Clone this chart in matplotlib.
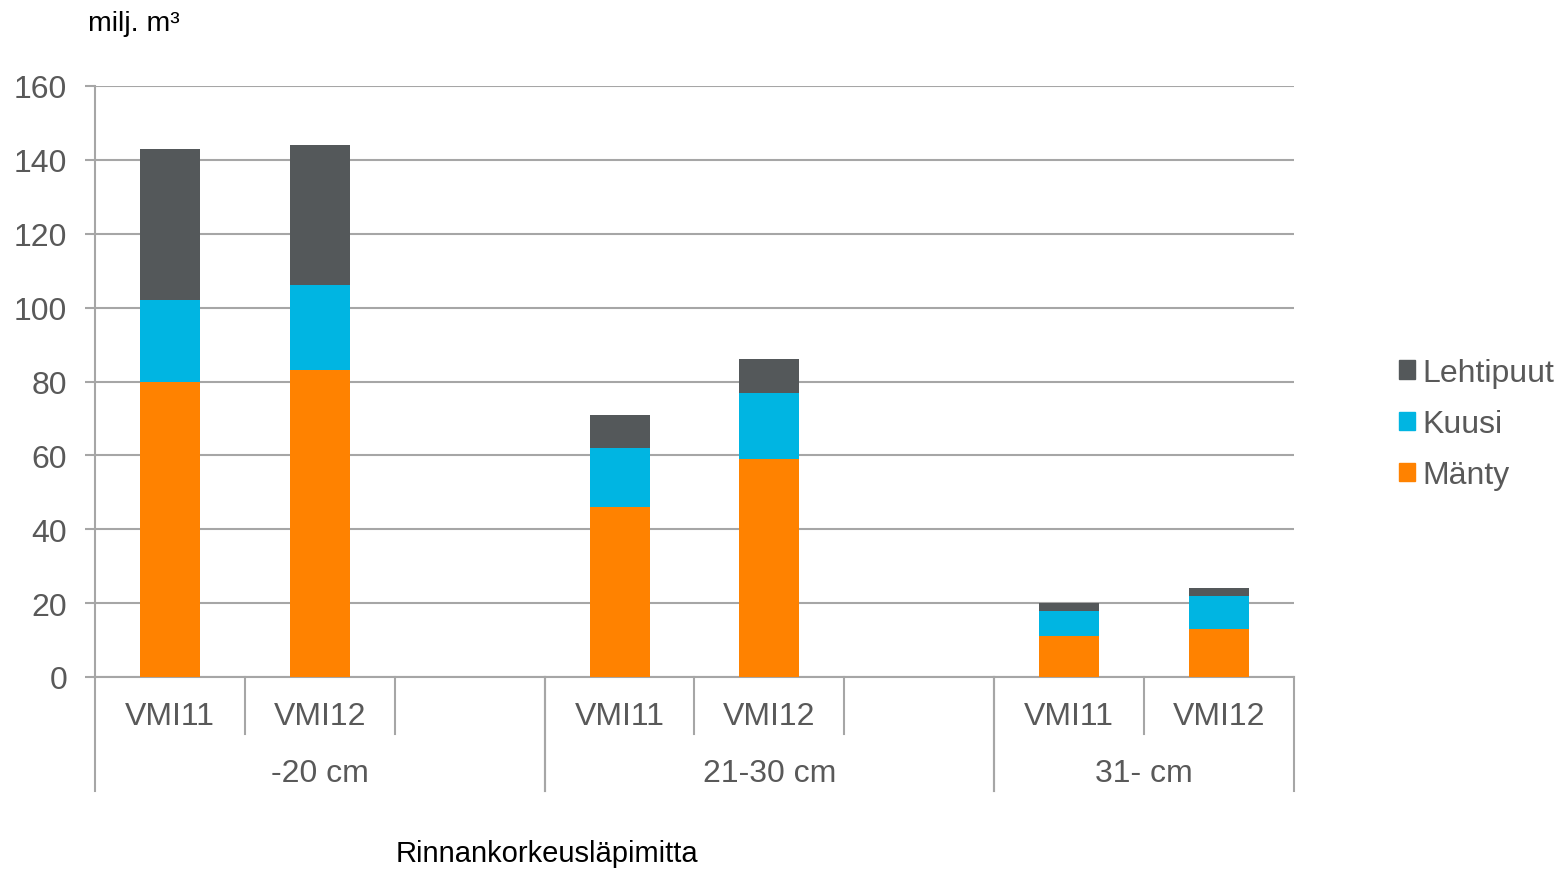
import matplotlib
matplotlib.use("Agg")
import matplotlib.pyplot as plt
from matplotlib.transforms import blended_transform_factory
from matplotlib.patches import Patch

plt.rcParams['font.family'] = ['Liberation Sans', 'DejaVu Sans']

groups = ["-20 cm", "21-30 cm", "31- cm"]
group_slots = [3, 3, 2]          # slots per group (last slot of first two groups is empty)
bar_labels = ["VMI11", "VMI12"]
manty = [80, 83, 46, 59, 11, 13]
kuusi = [22, 23, 16, 18, 7, 9]
lehtipuut = [41, 38, 9, 9, 2, 2]
yticks = [0, 20, 40, 60, 80, 100, 120, 140, 160]

c_manty = "#FF8200"
c_kuusi = "#00B5E2"
c_lehti = "#54585A"
grid_c = "#A6A6A6"
txt_c = "#595959"

fig = plt.figure(figsize=(15.61, 8.70), dpi=100)
ax = fig.add_axes([95/1561, 192/870, 1199/1561, 591/870])

positions = []
start = 0
group_bounds = []
for n in group_slots:
    group_bounds.append((start - 0.5, start + n - 0.5))
    positions += [start, start + 1]
    start += n
total = start

w = 0.4
bottom2 = [a + b for a, b in zip(manty, kuusi)]
ax.bar(positions, manty, width=w, color=c_manty, zorder=3)
ax.bar(positions, kuusi, width=w, bottom=manty, color=c_kuusi, zorder=3)
ax.bar(positions, lehtipuut, width=w, bottom=bottom2, color=c_lehti, zorder=3)

ax.set_xlim(-0.5, total - 0.5)
ax.set_ylim(0, 160)
ax.set_yticks(yticks)
ax.yaxis.grid(True, color=grid_c, linewidth=1.5, zorder=0)
ax.set_axisbelow(True)
ax.tick_params(axis='y', labelsize=23, labelcolor=txt_c, color=grid_c, length=7, width=1.5, pad=13)
ax.set_xticks([])
for s in ['top', 'right']:
    ax.spines[s].set_visible(False)
for s in ['left', 'bottom']:
    ax.spines[s].set_color(grid_c)
    ax.spines[s].set_linewidth(1.5)

trans = blended_transform_factory(ax.transData, ax.transAxes)
short_y = -57/591
long_y = -114/591

for gi, (lo, hi) in enumerate(group_bounds):
    ax.plot([lo, lo], [0, long_y], transform=trans, color=grid_c, lw=1.5, clip_on=False)
    ax.plot([hi, hi], [0, long_y], transform=trans, color=grid_c, lw=1.5, clip_on=False)
    n = group_slots[gi]
    for k in range(1, n):
        xs = lo + k
        ax.plot([xs, xs], [0, short_y], transform=trans, color=grid_c, lw=1.5, clip_on=False)
    ax.text((lo + hi) / 2, -96/591, groups[gi], transform=trans, ha='center', va='center',
            fontsize=23, color=txt_c)

for i, p in enumerate(positions):
    ax.text(p, -39/591, bar_labels[i % 2], transform=trans, ha='center', va='center',
            fontsize=23, color=txt_c)

fig.text(88/1561, 1 - 24/870, "milj. m³", fontsize=20.5, ha='left', va='center', color='black')
fig.text(547/1561, 1 - 854/870, "Rinnankorkeusläpimitta", fontsize=21, ha='center', va='center', color='black')

handles = [Patch(color=c_lehti), Patch(color=c_kuusi), Patch(color=c_manty)]
leg = fig.legend(handles, ["Lehtipuut", "Kuusi", "Mänty"], loc='center left',
                 bbox_to_anchor=(1399/1561, 1 - 425/870), frameon=False, fontsize=23,
                 handlelength=0.5, handleheight=0.5, handletextpad=0.22, labelspacing=0.66,
                 borderaxespad=0, borderpad=0)
for t in leg.get_texts():
    t.set_color(txt_c)

fig.savefig("out.png", dpi=100)
